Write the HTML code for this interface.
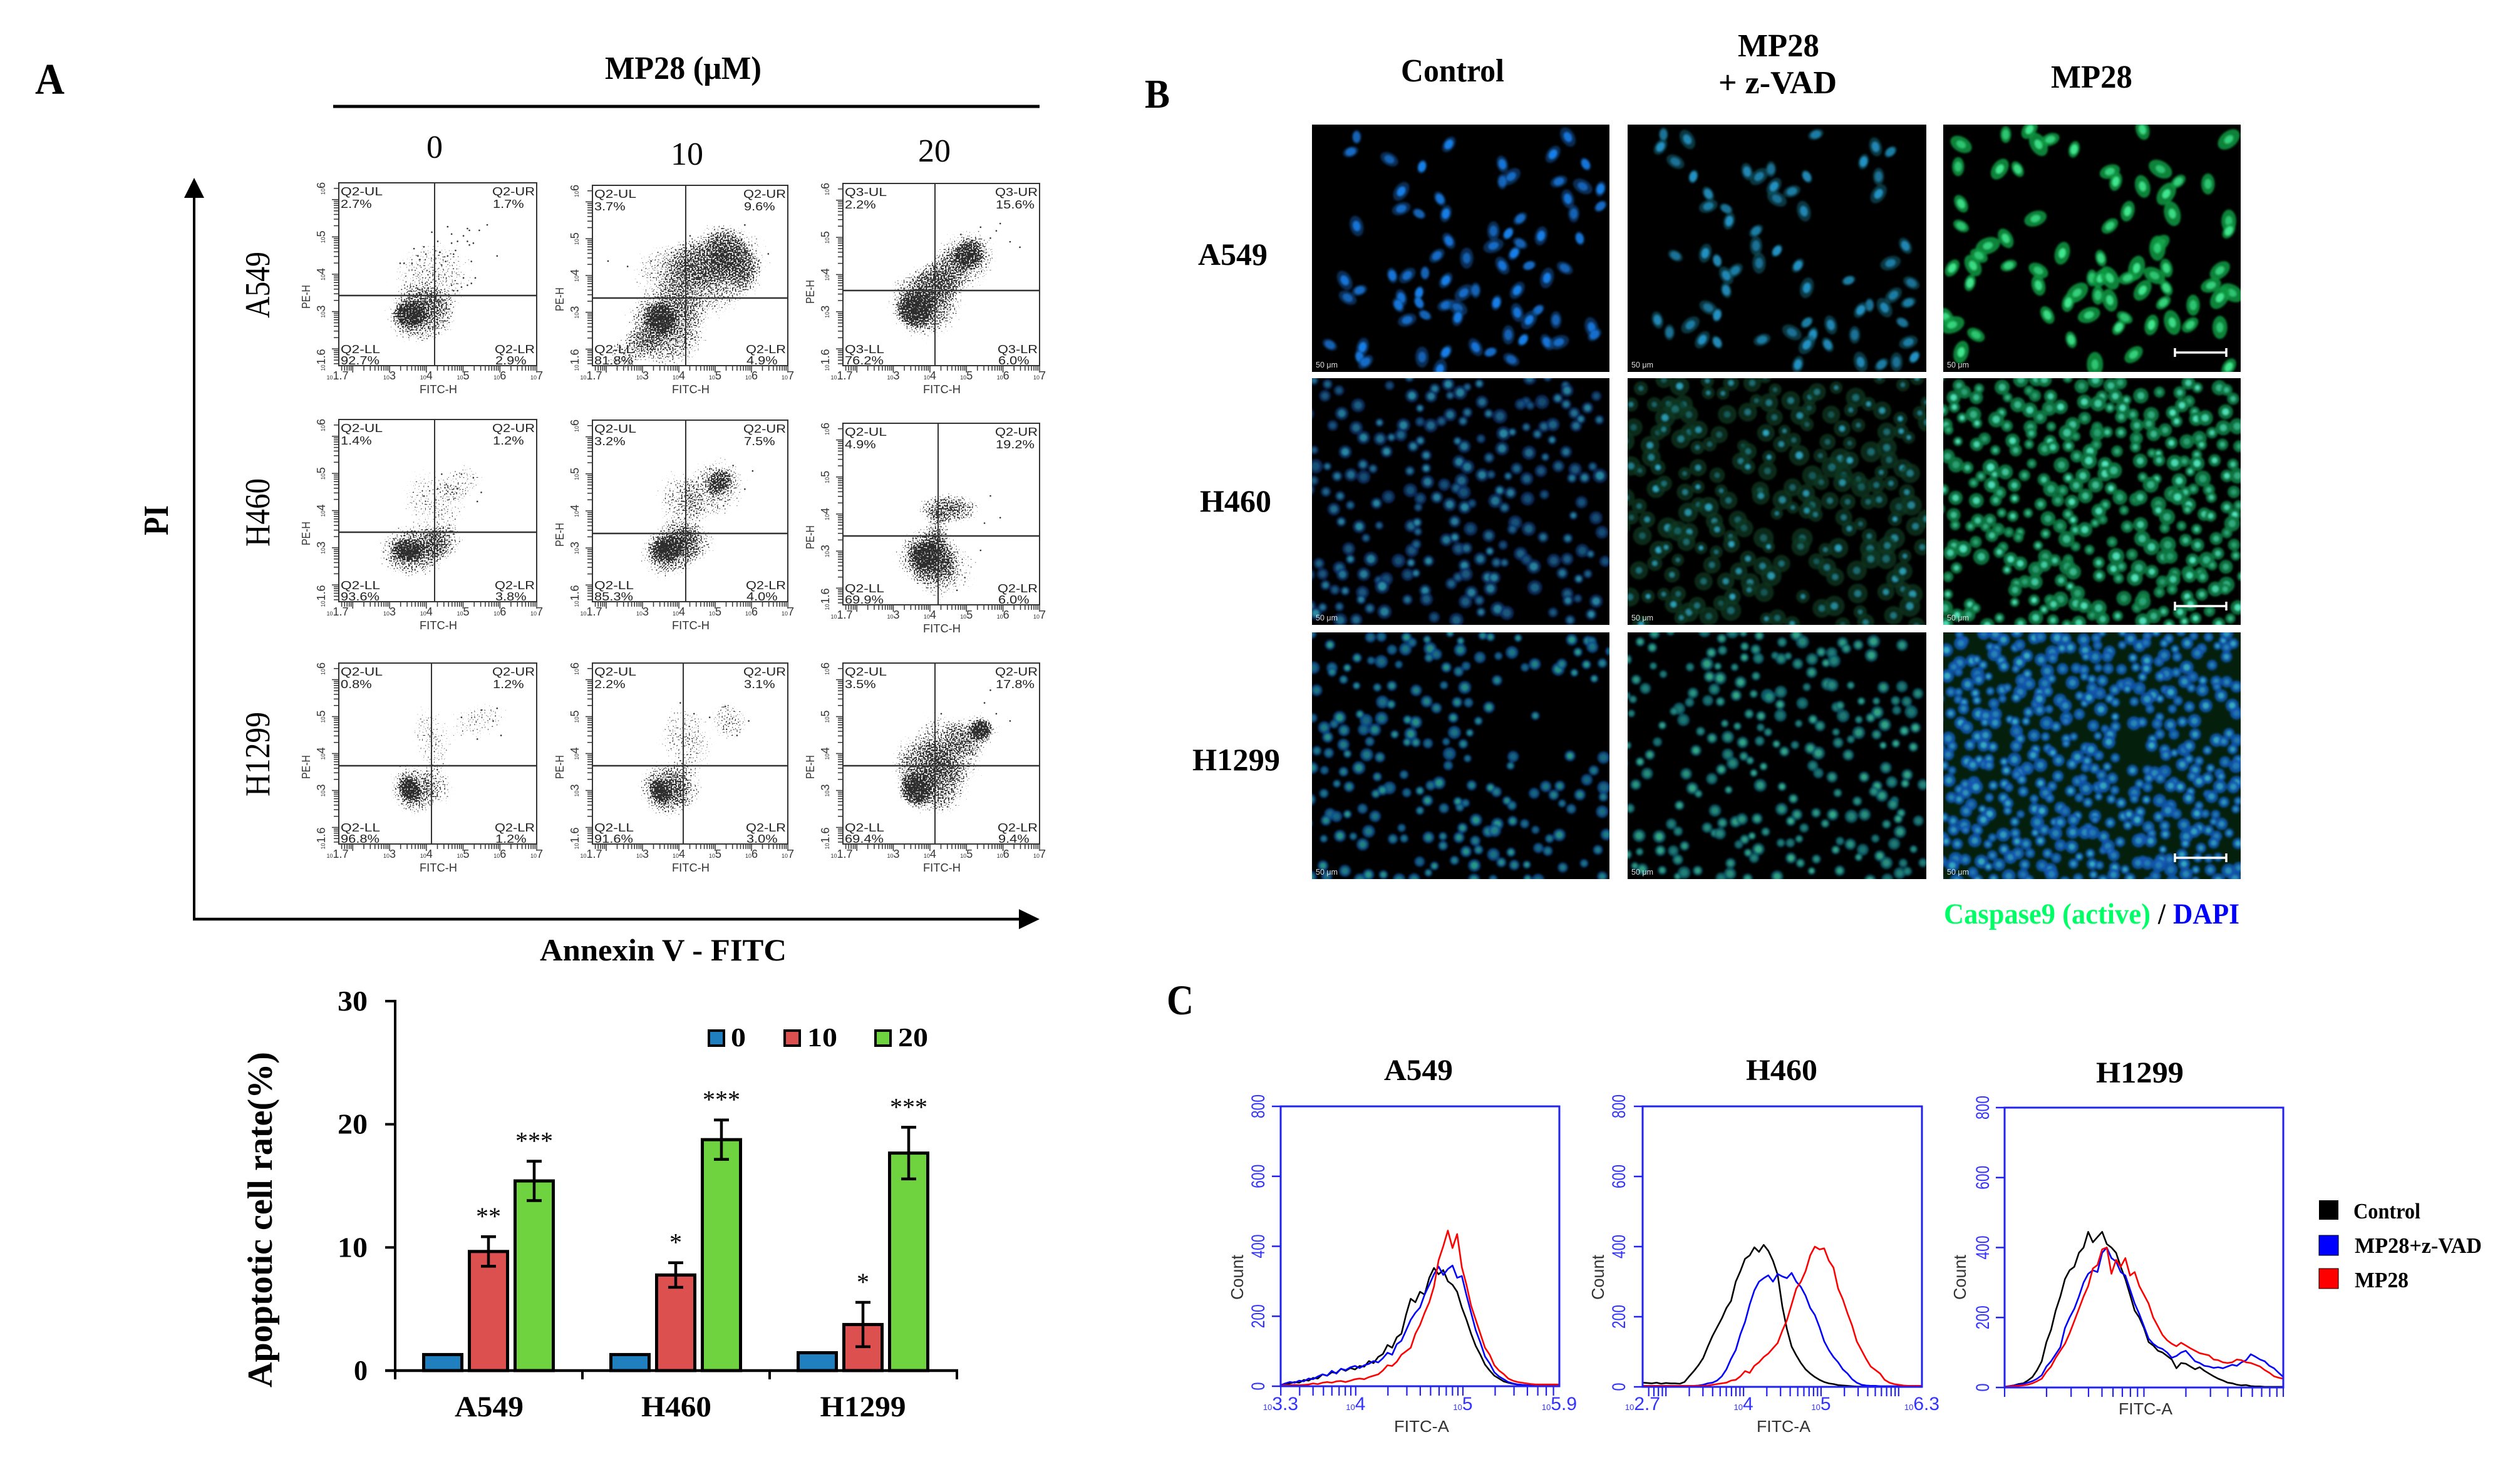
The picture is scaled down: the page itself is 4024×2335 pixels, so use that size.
<!DOCTYPE html>
<html lang="en">
<head>
<meta charset="utf-8">
<title>MP28 apoptosis figure</title>
<style>
html,body{margin:0;padding:0;background:#fff;}
svg{display:block;}
text{white-space:pre;}
.sb{font-family:"Liberation Serif",serif;font-weight:bold;fill:#000;}
.sr{font-family:"Liberation Serif",serif;fill:#000;}
.ss{font-family:"Liberation Sans",sans-serif;}
</style>
</head>
<body>
<svg id="fig" width="4024" height="2335" viewBox="0 0 4024 2335">
<defs id="defs">
  <radialGradient id="blob"><stop offset="0" stop-color="#000" stop-opacity="1"/><stop offset="0.6" stop-color="#000" stop-opacity="0.7"/><stop offset="1" stop-color="#000" stop-opacity="0"/></radialGradient>
  <filter id="stipple" color-interpolation-filters="sRGB">
    <feTurbulence type="fractalNoise" baseFrequency="0.42" numOctaves="1" seed="7" result="n"/>
    <feColorMatrix in="n" type="matrix" values="0 0 0 0 0  0 0 0 0 0  0 0 0 0 0  0 0 0 1.9 -0.52" result="na"/>
    <feComposite in="SourceAlpha" in2="na" operator="arithmetic" k1="0" k2="1" k3="1" k4="-1" result="d"/>
    <feComponentTransfer in="d"><feFuncA type="linear" slope="6" intercept="0"/></feComponentTransfer>
  </filter>
  <filter id="soft"><feGaussianBlur stdDeviation="1.6"/></filter>
</defs>
<rect width="4024" height="2335" fill="#fff"/>

<!-- Panel A headings -->
<text class="sb" x="56" y="150" font-size="70" textLength="47" lengthAdjust="spacingAndGlyphs">A</text>
<text class="sb" x="966" y="126" font-size="52" textLength="250" lengthAdjust="spacingAndGlyphs">MP28 (μM)</text>
<line x1="532" y1="170" x2="1660" y2="170" stroke="#000" stroke-width="5"/>
<text class="sr" x="694" y="252" font-size="52" text-anchor="middle">0</text>
<text class="sr" x="1097" y="263" font-size="52" text-anchor="middle">10</text>
<text class="sr" x="1492" y="258" font-size="52" text-anchor="middle">20</text>
<text class="sr" transform="translate(430,508) rotate(-90)" font-size="56" textLength="106" lengthAdjust="spacingAndGlyphs">A549</text>
<text class="sr" transform="translate(430,873) rotate(-90)" font-size="56" textLength="109" lengthAdjust="spacingAndGlyphs">H460</text>
<text class="sr" transform="translate(430,1272) rotate(-90)" font-size="56" textLength="135" lengthAdjust="spacingAndGlyphs">H1299</text>
<text class="sb" transform="translate(268,855) rotate(-90)" font-size="56" textLength="48" lengthAdjust="spacingAndGlyphs">PI</text>
<text class="sb" x="862" y="1534" font-size="50" textLength="394" lengthAdjust="spacingAndGlyphs">Annexin V - FITC</text>
<line x1="310" y1="310" x2="310" y2="1470" stroke="#000" stroke-width="4"/>
<polygon points="310,284 294,316 326,316" fill="#000"/>
<line x1="308" y1="1468" x2="1632" y2="1468" stroke="#000" stroke-width="4.5"/>
<polygon points="1660,1468 1627,1452 1627,1484" fill="#000"/>
<g id="scatter"></g>

<!-- Panel A bar chart -->
<text class="sb" transform="translate(434,2216) rotate(-90)" font-size="56" textLength="536" lengthAdjust="spacingAndGlyphs">Apoptotic cell rate(%)</text>
<g id="bars"></g>

<!-- Panel B -->
<text class="sb" x="1828" y="172" font-size="66" textLength="40" lengthAdjust="spacingAndGlyphs">B</text>
<text class="sb" x="2237" y="130" font-size="52" textLength="165" lengthAdjust="spacingAndGlyphs">Control</text>
<text class="sb" x="2775" y="90" font-size="52" textLength="130" lengthAdjust="spacingAndGlyphs">MP28</text>
<text class="sb" x="2744" y="149" font-size="52" textLength="189" lengthAdjust="spacingAndGlyphs">+ z-VAD</text>
<text class="sb" x="3275" y="140" font-size="52" textLength="130" lengthAdjust="spacingAndGlyphs">MP28</text>
<text class="sb" x="1913" y="423" font-size="50" textLength="111" lengthAdjust="spacingAndGlyphs">A549</text>
<text class="sb" x="1916" y="817" font-size="50" textLength="114" lengthAdjust="spacingAndGlyphs">H460</text>
<text class="sb" x="1904" y="1230" font-size="50" textLength="140" lengthAdjust="spacingAndGlyphs">H1299</text>
<g id="micro"></g>
<text class="sb" x="3104" y="1475" font-size="47" textLength="330" lengthAdjust="spacingAndGlyphs" style="fill:#00ff66">Caspase9 (active)</text>
<text class="sb" x="3446" y="1475" font-size="47" textLength="12" lengthAdjust="spacingAndGlyphs">/</text>
<text class="sb" x="3470" y="1475" font-size="47" textLength="106" lengthAdjust="spacingAndGlyphs" style="fill:#0000ff">DAPI</text>

<!-- Panel C -->
<text class="sb" x="1863" y="1620" font-size="68" textLength="43" lengthAdjust="spacingAndGlyphs">C</text>
<text class="sb" x="2210" y="1725" font-size="48" textLength="110" lengthAdjust="spacingAndGlyphs">A549</text>
<text class="sb" x="2788" y="1725" font-size="48" textLength="114" lengthAdjust="spacingAndGlyphs">H460</text>
<text class="sb" x="3347" y="1729" font-size="48" textLength="140" lengthAdjust="spacingAndGlyphs">H1299</text>
<g id="hists"></g>
<rect x="3703" y="1917" width="31" height="31" fill="#000"/>
<rect x="3703" y="1973" width="31" height="32" fill="#0000ff" stroke="#000" stroke-width="1"/>
<rect x="3703" y="2026" width="31" height="32" fill="#ff0000" stroke="#000" stroke-width="1"/>
<text class="sb" x="3758" y="1946" font-size="35" textLength="107" lengthAdjust="spacingAndGlyphs">Control</text>
<text class="sb" x="3760" y="2001" font-size="35" textLength="203" lengthAdjust="spacingAndGlyphs">MP28+z-VAD</text>
<text class="sb" x="3760" y="2056" font-size="35" textLength="86" lengthAdjust="spacingAndGlyphs">MP28</text>
</svg>

<script>
/* ---------- bar chart data ---------- */
const barCategories = ['A549','H460','H1299'];
const barDoses = ['0','10','20'];
const barRate0 = [1.3,1.3,1.45];
const barRate10 = [9.67,7.76,3.74];
const barRate20 = [15.4,18.75,17.66];
const barErr10 = [1.2,1.0,1.8];
const barErr20 = [1.6,1.6,2.1];
const barStars10 = ['**','*','*'];
const barStars20 = ['***','***','***'];
const barTicks = [0,10,20,30];

/* ---------- flow scatter data: percentages per quadrant (UL, UR, LL, LR) ---------- */
const quadrantPercents = [
 ['2.7%','1.7%','92.7%','2.9%'],['3.7%','9.6%','81.8%','4.9%'],['2.2%','15.6%','76.2%','6.0%'],
 ['1.4%','1.2%','93.6%','3.8%'],['3.2%','7.5%','85.3%','4.0%'],['4.9%','19.2%','69.9%','6.0%'],
 ['0.8%','1.2%','96.8%','1.2%'],['2.2%','3.1%','91.6%','3.0%'],['3.5%','17.8%','69.4%','9.4%']
];
/* population density clouds: centre x%, centre y%, radius x%, radius y%, tilt, density */
const scatterClouds = [
 [[36,28,8,7,0,1],[42,28,17,15,-10,.72],[47,48,20,20,-30,.42]],
 [[35,26,8,9,-35,1],[38,22,19,22,-35,.72],[20,9,17,9,-30,.5],[62,52,28,22,-35,.66],[45,55,25,14,-10,.48],[72,60,10,20,-35,.6]],
 [[37,31,9,10,-40,1],[42,35,18,19,-40,.72],[64,61,8,8,-40,.9],[62,58,17,15,-40,.55],[50,48,16,12,-45,.5]],
 [[35,28,8,6,0,1],[38,28,17,14,-5,.72],[52,33,11,9,-20,.55],[48,55,14,20,-45,.38],[62,65,11,9,-30,.36]],
 [[38,29,8,7,-20,1],[40,28,15,14,-20,.72],[52,33,11,10,0,.5],[62,62,17,15,-40,.55],[45,52,11,20,-10,.45],[65,66,7,6,-40,.8]],
 [[42,27,8,8,0,1],[43,27,15,15,0,.72],[47,18,11,15,0,.48],[54,53,15,8,0,.72],[48,40,6,14,0,.48],[58,20,10,13,0,.34]],
 [[36,30,5,7,-25,1],[38,30,11,14,-25,.7],[50,33,7,11,-20,.44],[47,58,9,19,-15,.38],[70,68,15,9,-20,.36]],
 [[35,29,5,7,-25,1],[37,30,12,15,-25,.7],[47,32,9,13,-20,.48],[48,58,13,19,-15,.42],[70,68,9,11,-30,.46]],
 [[37,30,8,9,-30,1],[44,38,16,23,-35,.8],[55,53,13,21,-40,.55],[70,63,6,6,-30,1],[65,60,14,11,-20,.5]]
];
/* sparse events: x%, y% */
const scatterEvents = [
 [[75,77],[71,74],[65,75],[66,74],[55,76],[57,72],[63,71],[60,68],[65,68],[66,66],[68,67],[57,67],[59,63],[58,61],[51,62],[55,60],[80,60],[67,57],[54,57],[52,55],[47,73],[50,68],[43,65],[38,64],[44,61],[40,60],[41,58],[31,56],[33,56],[37,56],[69,48],[67,45],[65,44],[63,48],[57,44],[62,43],[60,41],[58,41]],
 [[18,55],[8,58],[30,58],[78,78],[90,62],[70,72],[62,68],[50,72],[55,62],[42,60],[85,58]],
 [[80,78],[75,70],[85,68],[60,72],[90,65],[78,74],[70,76]],
 [[62,70],[68,68],[60,62],[70,55],[50,62],[43,58],[72,60],[52,70]],
 [[82,72],[72,75],[78,62],[60,73],[48,60]],
 [[75,60],[72,45],[80,48],[62,15],[58,8],[70,30]],
 [[80,75],[72,74],[62,70],[82,60],[70,58],[78,68]],
 [[68,76],[60,70],[52,72],[80,68],[74,60],[45,78]],
 [[75,85],[72,78],[48,62],[78,72],[85,68],[50,72]]
];
const scatterRows = ['a549','h460','h1299'];
const scatterDoses = ['0','10','20'];
const scatterXLabels = ['1.7','3','4','5','6','7'];
const scatterYLabels = ['1.6','3','4','5','6'];

/* ---------- histogram data (counts, evenly spaced across each x axis) ---------- */
const a549Control = [2,6,8,12,10,18,16,24,22,34,30,40,38,50,44,52,48,58,56,72,66,84,92,118,110,140,150,205,250,240,270,262,310,338,320,332,300,290,270,225,190,150,115,90,62,45,30,22,14,10,7,5,4,3,2,2,2,2,2,2,2];
const a549Zvad = [3,8,12,10,16,14,22,20,28,34,30,44,36,50,46,54,58,52,60,64,72,68,80,96,90,120,130,160,190,210,225,262,290,320,342,318,335,345,310,315,260,210,160,125,85,65,40,28,20,12,8,5,4,3,2,2,2,2,2,2,2];
const a549Mp28 = [2,3,3,4,3,4,5,8,6,10,12,10,14,15,12,16,20,22,20,26,30,34,45,60,58,70,90,100,110,150,175,210,240,285,360,400,445,395,435,340,290,230,190,150,110,90,60,45,35,22,16,12,10,8,6,5,5,5,5,5,5];
const h460Control = [12,11,10,12,9,11,10,10,9,14,30,45,62,82,115,145,170,195,225,245,300,330,365,375,398,385,405,388,360,320,230,165,115,90,68,50,38,28,20,14,10,8,5,4,3,2,1,1,1,1,1,1,1,1,1,1,1,1,1,1,1];
const h460Zvad = [3,3,3,3,3,3,3,3,3,3,3,3,4,6,10,12,18,30,50,80,105,150,185,235,275,300,310,318,300,322,315,310,325,300,285,260,225,205,170,130,105,85,70,50,38,22,12,6,4,3,3,2,2,2,2,2,2,2,2,2,2];
const h460Mp28 = [3,3,3,3,3,3,3,3,3,3,3,3,3,3,4,6,8,10,12,18,20,30,45,40,60,70,85,95,110,125,160,190,235,280,300,330,375,400,392,395,360,340,280,250,210,175,130,105,80,58,48,38,20,12,8,6,4,3,3,3,3];
const h1299Control = [2,4,6,10,12,20,30,50,75,130,165,220,260,310,335,345,385,400,445,415,430,445,410,400,385,345,310,265,220,200,170,130,120,105,100,90,80,55,70,68,60,52,58,48,40,32,25,20,14,12,8,6,7,4,3,3,2,2,2,2,2];
const h1299Zvad = [2,4,6,8,10,14,18,25,35,60,75,95,115,170,200,225,260,300,325,335,330,385,400,370,360,330,320,280,240,210,175,140,125,115,110,100,85,90,100,105,90,75,70,62,60,56,58,55,60,65,62,72,78,95,88,80,75,62,55,42,30];
const h1299Mp28 = [2,3,4,5,6,8,12,18,25,45,60,85,105,125,155,190,225,260,290,340,350,395,400,325,365,345,370,320,330,290,265,240,200,175,150,135,125,118,128,120,112,105,98,95,92,80,78,72,70,72,80,78,72,70,65,60,50,42,32,28,25];
const histCountTicks = [0,200,400,600,800];
const histA549XLabels = ['3.3','4','5','5.9'];
const histH460XLabels = ['2.7','4','5','6.3'];
const histH1299XLabels = [];

/* ---------- microscopy A549 cell positions (x%, y%) ---------- */
const cellsA549Control = [[15,5],[46,8],[86,5],[13,11],[26,14],[37,17],[64,16],[67,21],[64,23],[81,12],[92,16],[83,23],[91,25],[97,26],[86,30],[97,33],[88,36],[30,27],[43,30],[30,34],[36,36],[45,36],[15,41],[70,38],[61,43],[66,44],[46,47],[61,49],[70,48],[77,45],[90,46],[42,53],[52,54],[68,52],[64,57],[73,57],[85,58],[79,62],[27,61],[32,61],[38,60],[45,63],[11,63],[16,67],[12,70],[36,68],[30,70],[51,68],[55,67],[69,67],[36,72],[45,73],[49,74],[62,72],[69,76],[76,75],[82,79],[73,79],[29,73],[32,79],[38,77],[49,78],[94,82],[95,85],[66,85],[71,87],[79,88],[83,88],[6,89],[17,90],[16,94],[18,96],[37,94],[45,92],[55,90],[60,92],[67,95],[43,99]];
const cellsA549Zvad = [[12,4],[11,9],[20,6],[63,4],[16,15],[22,21],[40,19],[44,21],[48,18],[49,25],[60,21],[55,27],[50,30],[79,15],[83,9],[88,11],[84,21],[84,28],[27,28],[27,33],[33,34],[34,39],[59,35],[43,43],[43,49],[50,51],[93,49],[88,56],[16,53],[26,52],[30,55],[36,59],[44,56],[57,57],[33,61],[74,63],[95,64],[60,66],[33,67],[89,69],[81,73],[78,75],[86,74],[94,72],[27,74],[30,77],[10,79],[21,81],[14,84],[25,87],[30,88],[45,87],[55,84],[62,85],[68,81],[60,80],[76,85],[60,89],[67,89],[94,88],[92,80],[57,97],[78,96],[85,97],[90,96],[96,94]];
const cellsA549Mp28 = [[21,4],[29,2],[32,8],[36,6],[6,8],[44,10],[67,2],[96,6],[5,17],[19,18],[25,18],[56,19],[73,18],[58,23],[67,25],[79,23],[89,24],[75,28],[6,32],[31,38],[6,41],[62,35],[77,36],[56,41],[96,39],[96,43],[21,46],[15,49],[12,53],[40,52],[53,54],[73,48],[72,50],[3,58],[10,57],[22,57],[32,59],[65,58],[75,58],[93,59],[50,62],[53,62],[56,62],[62,62],[71,61],[9,64],[32,65],[45,68],[52,69],[67,67],[75,66],[90,65],[97,68],[42,72],[56,71],[74,72],[84,73],[93,70],[35,77],[49,77],[61,78],[70,81],[77,80],[83,81],[93,82],[59,82],[1,78],[3,81],[11,85],[6,92],[43,87],[64,93],[51,97],[96,98]];

function mk(parent, tag, attrs){
  const e = document.createElementNS(parent.namespaceURI, tag);
  for (const k in attrs) e.setAttribute(k, attrs[k]);
  parent.appendChild(e);
  return e;
}
function tx(parent, str, attrs, cls){
  const e = mk(parent, 'text', attrs);
  e.setAttribute('class', cls);
  e.textContent = str;
  return e;
}

/* ========== bar chart ========== */
(function(){
  const g = document.getElementById('bars');
  const y = v => 2189 - v * 19.67;
  const band = i => 780 + i * 299;
  const barWidth = 61, step = 73;
  const fills = ['#1f7fbf','#dd5050','#6fd33f'];
  const series = [barRate0, barRate10, barRate20];
  const errs = [null, barErr10, barErr20];
  const stars = [null, barStars10, barStars20];

  series.forEach((vals, s) => {
    vals.forEach((v, i) => {
      const cx = band(i) + (s - 1) * step;
      const bar = mk(g, 'rect', {x: cx - barWidth / 2, y: y(v), width: barWidth, height: y(0) - y(v), fill: fills[s], stroke: '#000', 'stroke-width': 5});
      
      
      if (errs[s]) {
        const e = errs[s][i];
        const wh = mk(g, 'path', {d: 'M' + (cx - 12) + ' ' + y(v + e) + 'H' + (cx + 12) + 'M' + cx + ' ' + y(v + e) + 'V' + y(v - e) + 'M' + (cx - 12) + ' ' + y(v - e) + 'H' + (cx + 12), stroke: '#000', 'stroke-width': 4.5, fill: 'none'});
        
        
        const st = tx(g, stars[s][i], {x: cx, y: y(v + e) - 38 + 19, 'font-size': 40, 'text-anchor': 'middle'}, 'sr');
        
        
      }
    });
  });
  const yAxis = mk(g, 'line', {x1: 631, y1: y(30) - 2, x2: 631, y2: 2203, stroke: '#000', 'stroke-width': 4});
  
  
  const xAxis = mk(g, 'line', {x1: 615, y1: y(0), x2: 1530, y2: y(0), stroke: '#000', 'stroke-width': 4.5});
  
  
  barTicks.forEach(t => {
    const m = mk(g, 'line', {x1: 615, y1: y(t), x2: 631, y2: y(t), stroke: '#000', 'stroke-width': 4});
    
    
    const l = tx(g, String(t), {x: 587, y: y(t) + 15, 'font-size': 46, 'text-anchor': 'end', textLength: t ? 48 : 22, lengthAdjust: 'spacingAndGlyphs'}, 'sb');
    
    
  });
  [0,1,2,3].forEach(i => {
    const m = mk(g, 'line', {x1: 631 + i * 299, y1: y(0), x2: 631 + i * 299, y2: 2203, stroke: '#000', 'stroke-width': 4});
    
    
  });
  const catWidths = [110,112,137];
  barCategories.forEach((c, i) => {
    const l = tx(g, c, {x: band(i) + [1,1,0][i], y: 2262, 'font-size': 47, 'text-anchor': 'middle', textLength: catWidths[i], lengthAdjust: 'spacingAndGlyphs'}, 'sb');
    
    
  });
  const swatchX = [1130,1251,1396];
  const labelX = [1167,1289,1434];
  barDoses.forEach((d, i) => {
    const sw = mk(g, 'rect', {x: swatchX[i] + 2, y: 1646, width: 24, height: 24, fill: fills[i], stroke: '#000', 'stroke-width': 4});
    
    
    const l = tx(g, d, {x: labelX[i], y: 1671, 'font-size': 42, textLength: d.length * 24, lengthAdjust: 'spacingAndGlyphs'}, 'sb');
    
    
  });
})();

/* ========== flow cytometry scatter panels ========== */
(function(){
  const root = document.getElementById('scatter');
  const colLeft = [541,946,1346], colRight = [857,1258,1660];
  const rowTop = [[292,296,293],[670,671,676],[1059,1059,1059]];
  const rowBottom = [[584,584,584],[961,961,966],[1348,1348,1348]];
  const gateX = [[694,1095,1493],[694,1095,1498],[689,1091,1493]];
  const gateY = [[472,476,464],[850,852,856],[1223,1223,1223]];

  for (let r = 0; r < 3; r++) for (let c = 0; c < 3; c++) {
    const idx = r * 3 + c;
    const L = colLeft[c], R = colRight[c], T = rowTop[r][c], B = rowBottom[r][c];
    const W = R - L, H = B - T;
    const fx = p => L + p / 100 * W;
    const fy = p => B - p / 100 * H;
    const logX = v => L + (v - 1.62) * W / 5.38;
    const logY = v => B - (v - 1.55) * H / 4.9;
    const panel = mk(root, 'g', {});
    
    

    const dots = mk(panel, 'g', {filter: 'url(#stipple)', opacity: 0.82});
    
    
    mk(dots, 'rect', {x: L, y: T, width: W, height: H, fill: 'none'});
    scatterClouds[idx].forEach(cl => {
      const rx = cl[2] / 100 * W * 1.2, ry = cl[3] / 100 * H * 1.2;
      const cx = fx(cl[0]), cy = fy(cl[1]);
      const e = mk(dots, 'ellipse', {cx: cx, cy: cy, rx: rx, ry: ry, fill: 'url(#blob)', 'fill-opacity': cl[5], transform: 'rotate(' + cl[4] + ' ' + cx + ' ' + cy + ')'});
      
      
    });
    scatterEvents[idx].forEach(pt => {
      const d = mk(panel, 'circle', {cx: fx(pt[0]), cy: fy(pt[1]), r: 1.3, fill: '#333'});
      
      
    });

    const box = mk(panel, 'rect', {x: L, y: T, width: W, height: H, fill: 'none', stroke: '#333', 'stroke-width': 2});
    
    
    const gv = mk(panel, 'line', {x1: gateX[r][c], y1: T, x2: gateX[r][c], y2: B, stroke: '#333', 'stroke-width': 2});
    
    
    const gh = mk(panel, 'line', {x1: L, y1: gateY[r][c], x2: R, y2: gateY[r][c], stroke: '#333', 'stroke-width': 2.4});
    
    

    let d = '';
    for (let dec = 1; dec <= 7; dec++) for (let m = 1; m <= 9; m++) {
      const v = dec + Math.log10(m);
      if (v >= 1.62 && v <= 7.001) d += 'M' + logX(v).toFixed(1) + ' ' + B + 'V' + (B + (m === 1 ? 11 : 8));
      if (v >= 1.55 && v <= 6.45) d += 'M' + (L - (m === 1 ? 11 : 8)) + ' ' + logY(v).toFixed(1) + 'H' + L;
    }
    const ticks = mk(panel, 'path', {d: d, stroke: '#333', 'stroke-width': 1.5, fill: 'none'});
    
    

    scatterXLabels.forEach(s => {
      const px = s === '1.7' ? L - 2 : logX(+s);
      const t = tx(panel, '', {x: px, y: B + 22, 'text-anchor': 'middle', fill: '#333'}, 'ss');
      mk(t, 'tspan', {'font-size': 9}).textContent = '10';
      mk(t, 'tspan', {'font-size': 18}).textContent = s;
      
      
    });
    scatterYLabels.forEach(s => {
      const py = s === '6' ? T + 9 : (s === '1.6' ? B - 9 : logY(+s));
      const t = tx(panel, '', {'text-anchor': 'middle', fill: '#333', transform: 'translate(' + (L - 22) + ',' + py + ') rotate(-90)'}, 'ss');
      mk(t, 'tspan', {'font-size': 9}).textContent = '10';
      mk(t, 'tspan', {'font-size': 18}).textContent = s;
      
      
    });
    const xt = tx(panel, 'FITC-H', {x: (L + R) / 2 + 1, y: B + 44, 'font-size': 18, 'text-anchor': 'middle', fill: '#333', textLength: 60, lengthAdjust: 'spacingAndGlyphs'}, 'ss');
    
    
    const yt = tx(panel, 'PE-H', {'font-size': 18, 'text-anchor': 'middle', fill: '#333', textLength: 38, lengthAdjust: 'spacingAndGlyphs', transform: 'translate(' + (L - 46) + ',' + (gateY[r][c] + 2) + ') rotate(-90)'}, 'ss');
    
    

    const q = (idx === 2) ? 'Q3' : 'Q2';
    const pct = quadrantPercents[idx];
    const place = [
      [q + '-UL', L + 3, T + 20, 67, pct[0], L + 3, T + 40],
      [q + '-UR', R - 71, T + 20, 68, pct[1], R - 70, T + 40],
      [q + '-LL', L + 3, B - 20, 63, pct[2], L + 3, B - 2],
      [q + '-LR', R - 67, B - 20, 64, pct[3], R - 66, B - 2]
    ];
    place.forEach(p => {
      const a = tx(panel, p[0], {x: p[1], y: p[2], 'font-size': 18, fill: '#222', textLength: p[3], lengthAdjust: 'spacingAndGlyphs'}, 'ss');
      
      
      const b = tx(panel, p[4], {x: p[5], y: p[6], 'font-size': 18, fill: '#222', textLength: p[4].length * 12.4, lengthAdjust: 'spacingAndGlyphs'}, 'ss');
      
      
    });
  }
})();

/* ========== microscopy (photographic texture, not chart data) ========== */
(function(){
  const root = document.getElementById('micro');
  const colX = [2095,2599,3103], colW = [475,477,475];
  const rowY = [199,604,1010], rowH = [395,394,394];
  const colNames = ['control','mp28-zvad','mp28'];
  const rowNames = ['a549','h460','h1299'];
  const a549Sets = [cellsA549Control, cellsA549Zvad, cellsA549Mp28];
  const haloCols = ['#0b4a88','#125a6a','#0e9a42'];
  const coreCols = ['#1a80ea','#2492c4','#40e890'];
  const angles = [0,35,-30,70,-60,15,-15,50];
  /* step, skip fraction, halo colour, halo radius, core colour, core radius, halo opacity, sparse areas */
  const fields = {
    '1-0': [25,.30,'#0d3472',9,'#2a8ea6',5,.75, [[75,88,9],[20,10,7]]],
    '1-1': [27,.30,'#0b3a22',13,'#2fa8c0',4.5,.7, [[55,90,8]]],
    '1-2': [24,.14,'#0f7a42',10,'#52e8c0',4.5,.9, [[12,82,8],[55,85,6]]],
    '2-0': [24,.36,'#0f4f90',8,'#2a9e88',4.5,.85, [[80,40,20],[60,18,7],[88,82,8]]],
    '2-1': [24,.36,'#0e6070',8,'#38b08a',4.5,.85, [[15,55,8],[85,15,8]]],
    '2-2': [20,.12,'#1356b0',8.5,'#38b0c4',4,.9, [[62,45,6],[90,35,4]]]
  };
  let seed = 12345;
  const rnd = () => { seed = (Math.imul(seed, 1103515245) + 12345) & 0x7fffffff; return (seed >>> 8) / 8388608; };

  for (let r = 0; r < 3; r++) for (let c = 0; c < 3; c++) {
    const x = colX[c], y = rowY[r], w = colW[c], h = rowH[r];
    const g = mk(root, 'g', {});
    
    
    const clipId = 'clip' + r + c;
    const cp = mk(document.getElementById('defs'), 'clipPath', {id: clipId});
    mk(cp, 'rect', {x: x, y: y, width: w, height: h});
    const bgCol = (r === 2 && c === 2) ? '#04200d' : '#000';
    const bg = mk(g, 'rect', {x: x, y: y, width: w, height: h, fill: bgCol});
    
    
    const clip = mk(g, 'g', {'clip-path': 'url(#' + clipId + ')'});
    
    
    const layer = mk(clip, 'g', {filter: 'url(#soft)'});
    
    
    if (r === 0) {
      a549Sets[c].forEach((p, i) => {
        const cx = x + p[0] / 100 * w, cy = y + p[1] / 100 * h;
        const ang = angles[i % angles.length];
        const grow = (c === 2 ? 1.2 : 1) * (0.8 + (i * 7 % 5) * 0.1);
        const ha = mk(layer, 'ellipse', {cx: cx, cy: cy, rx: 9 * grow, ry: 14 * grow, fill: haloCols[c], opacity: c === 2 ? .85 : .6, transform: 'rotate(' + ang + ' ' + cx + ' ' + cy + ')'});
        
        
        const co = mk(layer, 'ellipse', {cx: cx, cy: cy, rx: c === 2 ? 5.5 : 6, ry: c === 2 ? 8 : 8.5, fill: coreCols[c], opacity: .65 + (i * 3 % 4) * 0.11, transform: 'rotate(' + ang + ' ' + cx + ' ' + cy + ')'});
        
        
      });
    } else {
      const f = fields[r + '-' + c];
      const step = f[0];
      let row = 0;
      for (let py = y + step * .3; py < y + h; py += step * .88, row++) {
        for (let px = x + (row % 2 ? step / 2 : 0); px < x + w; px += step) {
          const cx = px + (rnd() - .5) * step * .8, cy = py + (rnd() - .5) * step * .8;
          const keepA = rnd(), sizeA = rnd(), toneA = rnd();
          if (keepA < f[1]) continue;
          const pctX = (cx - x) / w * 100, pctY = (cy - y) / h * 100;
          let drop = false;
          f[7].forEach(v => { if (Math.hypot(pctX - v[0], (pctY - v[1]) * .85) < v[2] && keepA < .85) drop = true; });
          if (drop) continue;
          const s = .75 + sizeA * .55;
          const ha = mk(layer, 'circle', {cx: cx, cy: cy, r: f[3] * s, fill: f[2], opacity: f[6]});
          
          
          const co = mk(layer, 'circle', {cx: cx, cy: cy, r: f[5] * s, fill: f[4], opacity: .35 + toneA * .65});
          
          
        }
      }
    }
    const sc = tx(g, '50 μm', {x: x + 6, y: y + h - 7, 'font-size': 13, fill: '#ddd', textLength: 35, lengthAdjust: 'spacingAndGlyphs'}, 'ss');
    
    
    if (c === 2) {
      const yb = [563,968,1370][r];
      const bar = mk(g, 'path', {d: 'M3473 ' + (yb - 7) + 'V' + (yb + 7) + 'M3555 ' + (yb - 7) + 'V' + (yb + 7) + 'M3473 ' + yb + 'H3555', stroke: '#fff', 'stroke-width': 3.5, fill: 'none'});
      
      
    }
  }
})();

/* ========== histograms ========== */
(function(){
  const root = document.getElementById('hists');
  const plots = [
    {name: 'a549', L: 2045, R: 2490, T: 1767, B: 2214, lo: 3.3, hi: 5.9, series: [a549Control, a549Zvad, a549Mp28], labels: histA549XLabels, yLab: 2008, count: 1975, fitcY: 2287, fitcX: 2270, fitcW: 88},
    {name: 'h460', L: 2623, R: 3069, T: 1767, B: 2215, lo: 2.7, hi: 6.3, series: [h460Control, h460Zvad, h460Mp28], labels: histH460XLabels, yLab: 2584, count: 2551, fitcY: 2287, fitcX: 2848, fitcW: 86},
    {name: 'h1299', L: 3201, R: 3646, T: 1769, B: 2216, lo: 3, hi: 5, series: [h1299Control, h1299Zvad, h1299Mp28], labels: histH1299XLabels, yLab: 3165, count: 3129, fitcY: 2259, fitcX: 3426, fitcW: 86}
  ];
  const cols = ['#000000','#0000ff','#ff0000'];
  const names = ['control','mp28-zvad','mp28'];
  plots.forEach(p => {
    const g = mk(root, 'g', {});
    
    
    const x = v => p.L + (v - p.lo) / (p.hi - p.lo) * (p.R - p.L);
    const y = v => p.B - v / 800 * (p.B - p.T);

    p.series.forEach((vals, s) => {
      const d = vals.map((v, i) => (i ? 'L' : 'M') + (p.L + i / (vals.length - 1) * (p.R - p.L)).toFixed(1) + ' ' + y(v).toFixed(1)).join('');
      const ln = mk(g, 'path', {d: d, fill: 'none', stroke: cols[s], 'stroke-width': 2.6, 'stroke-linejoin': 'round'});
      
      
    });
    const fr = mk(g, 'rect', {x: p.L, y: p.T, width: p.R - p.L, height: p.B - p.T, fill: 'none', stroke: '#2222ee', 'stroke-width': 3});
    
    

    histCountTicks.forEach(t => {
      const m = mk(g, 'line', {x1: p.L - 14, y1: y(t), x2: p.L, y2: y(t), stroke: '#2222ee', 'stroke-width': 2.5});
      
      
      const l = tx(g, String(t), {'font-size': 30, fill: '#3333ff', 'text-anchor': 'middle', textLength: t ? 38 : 13, lengthAdjust: 'spacingAndGlyphs', transform: 'translate(' + (p.yLab + 11) + ',' + y(t) + ') rotate(-90)'}, 'ss');
      
      
    });
    let d = '';
    for (let dec = 2; dec <= 6; dec++) for (let m = 1; m <= 9; m++) {
      const v = dec + Math.log10(m);
      if (v >= p.lo && v <= p.hi) d += 'M' + x(v).toFixed(1) + ' ' + p.B + 'V' + (p.B + 15);
    }
    const ticks = mk(g, 'path', {d: d, stroke: '#2222ee', 'stroke-width': 2.2, fill: 'none'});
    
    

    p.labels.forEach(s => {
      const t = tx(g, '', {x: x(+s), y: 2252, 'text-anchor': 'middle', fill: '#3333ff'}, 'ss');
      mk(t, 'tspan', {'font-size': 13}).textContent = '10';
      mk(t, 'tspan', {'font-size': 30}).textContent = s;
      
      
    });
    const ft = tx(g, 'FITC-A', {x: p.fitcX, y: p.fitcY, 'font-size': 26, 'text-anchor': 'middle', fill: '#333', textLength: p.fitcW, lengthAdjust: 'spacingAndGlyphs'}, 'ss');
    
    
    const ct = tx(g, 'Count', {'font-size': 28, 'text-anchor': 'middle', fill: '#333', textLength: 72, lengthAdjust: 'spacingAndGlyphs', transform: 'translate(' + (p.count + 10) + ',2040) rotate(-90)'}, 'ss');
    
    
  });
})();
</script>
</body>
</html>
